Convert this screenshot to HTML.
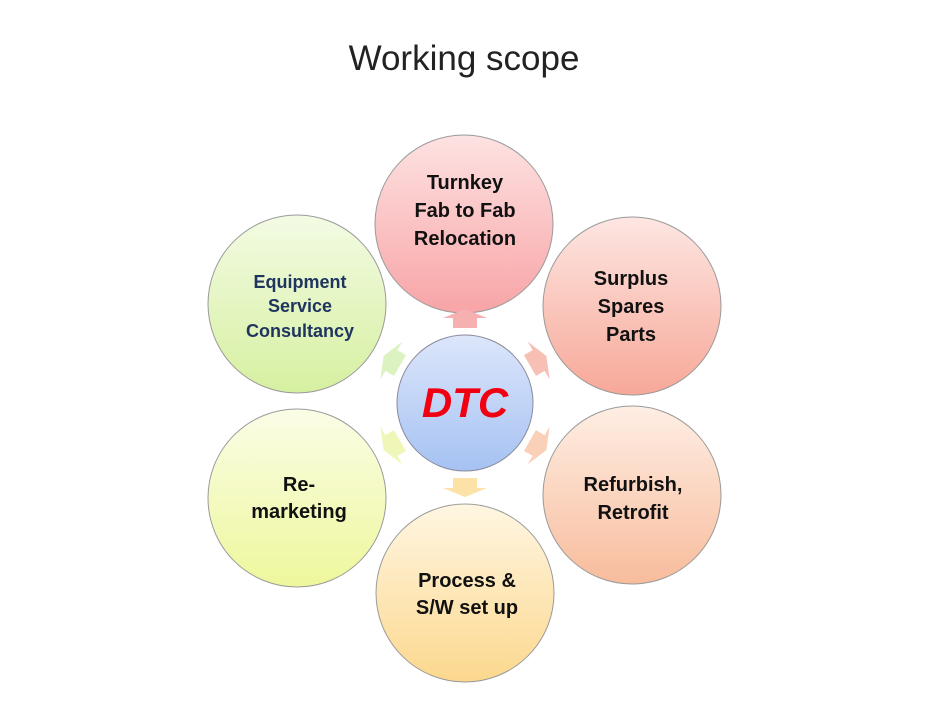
<!DOCTYPE html>
<html><head><style>
html,body{margin:0;padding:0;background:#fff;}
svg{display:block;}
text{font-family:"Liberation Sans",sans-serif;}
</style></head><body>
<svg width="928" height="712" viewBox="0 0 928 712" xmlns="http://www.w3.org/2000/svg">
<defs>
<linearGradient id="g1" x1="0" y1="0" x2="0" y2="1"><stop offset="0" stop-color="#fde2e2"/><stop offset="1" stop-color="#f8a4a6"/></linearGradient>
<linearGradient id="g2" x1="0" y1="0" x2="0" y2="1"><stop offset="0" stop-color="#fde6e2"/><stop offset="1" stop-color="#f7a898"/></linearGradient>
<linearGradient id="g3" x1="0" y1="0" x2="0" y2="1"><stop offset="0" stop-color="#feeee4"/><stop offset="1" stop-color="#f8bc9c"/></linearGradient>
<linearGradient id="g4" x1="0" y1="0" x2="0" y2="1"><stop offset="0" stop-color="#fff6e2"/><stop offset="1" stop-color="#fcd88e"/></linearGradient>
<linearGradient id="g5" x1="0" y1="0" x2="0" y2="1"><stop offset="0" stop-color="#fafde6"/><stop offset="1" stop-color="#eef79c"/></linearGradient>
<linearGradient id="g6" x1="0" y1="0" x2="0" y2="1"><stop offset="0" stop-color="#f3fbe4"/><stop offset="1" stop-color="#d6f0a0"/></linearGradient>
<linearGradient id="gc" x1="0" y1="0" x2="0" y2="1"><stop offset="0" stop-color="#dce6fb"/><stop offset="1" stop-color="#a6c2f2"/></linearGradient>
<path id="arr" d="M453,328 L453,318 L443,318 L465,309 L487,318 L477,318 L477,328 Z"/>
</defs>
<text x="464" y="70" font-size="35" fill="#222" text-anchor="middle">Working scope</text>

<g stroke="#9a9a9a" stroke-width="1">
<circle cx="464" cy="224" r="89" fill="url(#g1)"/>
<circle cx="632" cy="306" r="89" fill="url(#g2)"/>
<circle cx="632" cy="495" r="89" fill="url(#g3)"/>
<circle cx="465" cy="593" r="89" fill="url(#g4)"/>
<circle cx="297" cy="498" r="89" fill="url(#g5)"/>
<circle cx="297" cy="304" r="89" fill="url(#g6)"/>
<circle cx="465" cy="403" r="68" fill="url(#gc)" stroke="#8a8a9a"/>
</g>

<use href="#arr" fill="#f7b0b0" transform="rotate(0 465 403)"/>
<use href="#arr" fill="#f8c0b4" transform="rotate(60 465 403)"/>
<use href="#arr" fill="#fad0b8" transform="rotate(120 465 403)"/>
<use href="#arr" fill="#fde2a8" transform="rotate(180 465 403)"/>
<use href="#arr" fill="#f0f6b8" transform="rotate(240 465 403)"/>
<use href="#arr" fill="#dcf2c0" transform="rotate(300 465 403)"/>

<g font-weight="bold" font-size="20" fill="#111" text-anchor="middle">
<text x="465" y="189">Turnkey</text>
<text x="465" y="217">Fab to Fab</text>
<text x="465" y="245">Relocation</text>
<text x="631" y="285">Surplus</text>
<text x="631" y="313">Spares</text>
<text x="631" y="341">Parts</text>
<text x="633" y="491">Refurbish,</text>
<text x="633" y="519">Retrofit</text>
<text x="467" y="587">Process &amp;</text>
<text x="467" y="614">S/W set up</text>
<text x="299" y="491">Re-</text>
<text x="299" y="518">marketing</text>
</g>
<g font-weight="bold" font-size="18" fill="#1f3560" text-anchor="middle">
<text x="300" y="288">Equipment</text>
<text x="300" y="312">Service</text>
<text x="300" y="337">Consultancy</text>
</g>
<text x="465" y="417" font-weight="bold" font-style="italic" font-size="42" fill="#f00010" text-anchor="middle">DTC</text>
</svg>
</body></html>
